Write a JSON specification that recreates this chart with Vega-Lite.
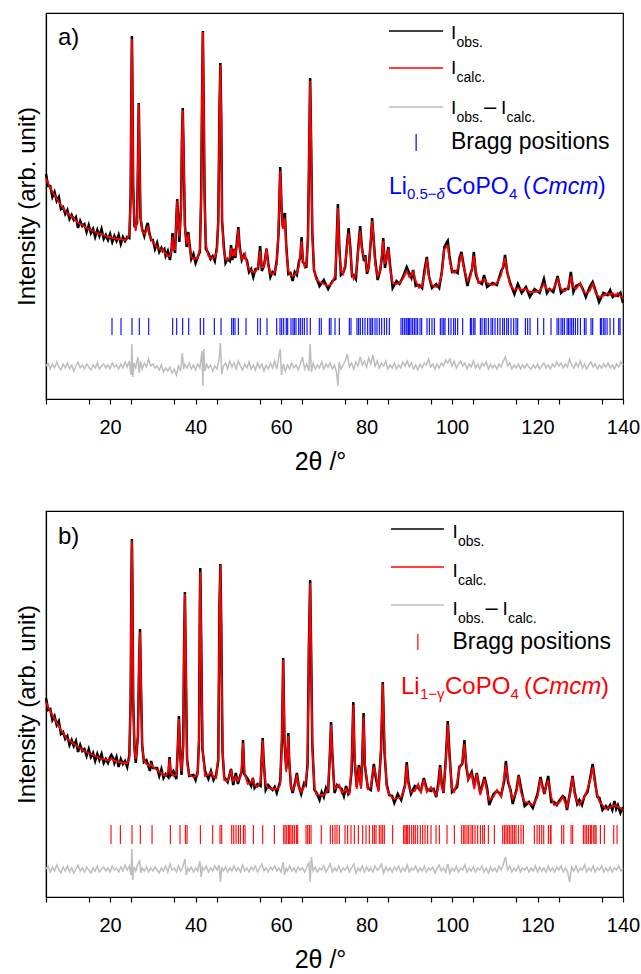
{
"$schema": "https://vega.github.io/schema/vega-lite/v6.json",
"background": "white",
"padding": {"left": 14, "top": 12, "right": 8, "bottom": 4},
"spacing": 35,
"config": {
 "font": "Liberation Sans",
 "view": {"stroke": "black", "strokeWidth": 1.2},
 "axis": {"domainColor": "black", "tickColor": "black", "labelColor": "black", "titleColor": "black", "grid": false, "titleFontWeight": "normal", "labelFont": "Liberation Sans", "titleFont": "Liberation Sans", "domainWidth": 1.2, "tickWidth": 1.2}
},
"datasets": {
 "one": [{}],
 "pa": [
{"x":5,"c":221,"o":225},{"x":5.5,"c":216,"o":213},{"x":6,"c":211,"o":213},{"x":6.5,"c":207,"o":202},{"x":7,"c":204,"o":207},{"x":7.5,"c":200,"o":198},{"x":8,"c":197,"o":202},{"x":8.5,"c":194,"o":190},{"x":9,"c":191,"o":192},{"x":9.5,"c":188,"o":185},
{"x":10,"c":186,"o":189},{"x":10.5,"c":184,"o":180},{"x":11,"c":182,"o":184},{"x":11.5,"c":181,"o":179},{"x":12,"c":178,"o":182},{"x":12.5,"c":176,"o":171},{"x":13,"c":175,"o":178},{"x":13.5,"c":174,"o":173},{"x":14,"c":173,"o":175},{"x":14.5,"c":171,"o":167},
{"x":15,"c":170,"o":174},{"x":15.5,"c":169,"o":166},{"x":16,"c":168,"o":170},{"x":16.5,"c":167,"o":162},{"x":17,"c":166,"o":169},{"x":17.5,"c":165,"o":163},{"x":18,"c":165,"o":170},{"x":18.5,"c":164,"o":160},{"x":19,"c":163,"o":164},{"x":19.5,"c":162,"o":159},
{"x":20,"c":162,"o":165},{"x":20.5,"c":161,"o":157},{"x":21,"c":161,"o":163},{"x":21.5,"c":160,"o":158},{"x":22,"c":160,"o":164},{"x":22.5,"c":160,"o":155},{"x":23,"c":159,"o":162},{"x":23.5,"c":159,"o":158},{"x":24,"c":160,"o":162},{"x":24.5,"c":165,"o":161},
{"x":24.8,"c":200,"o":204},{"x":25,"c":320,"o":317},{"x":25.1,"c":360,"o":363},{"x":25.2,"c":330,"o":325},{"x":25.4,"c":210,"o":213},{"x":25.7,"c":175,"o":173},{"x":26,"c":168,"o":173},{"x":26.3,"c":180,"o":176},{"x":26.5,"c":230,"o":231},{"x":26.7,"c":295,"o":296},
{"x":26.9,"c":240,"o":243},{"x":27.1,"c":185,"o":181},{"x":27.5,"c":168,"o":170},{"x":28,"c":165,"o":163},{"x":28.5,"c":168,"o":172},{"x":28.8,"c":173,"o":176},{"x":29.1,"c":165,"o":168},{"x":29.6,"c":160,"o":159},{"x":30,"c":157,"o":159},{"x":30.5,"c":154,"o":150},
{"x":31,"c":152,"o":156},{"x":31.5,"c":150,"o":147},{"x":32,"c":149,"o":151},{"x":32.3,"c":150,"o":148},{"x":32.7,"c":147,"o":150},{"x":33,"c":145,"o":143},{"x":33.5,"c":143,"o":148},{"x":34,"c":143,"o":139},{"x":34.4,"c":150,"o":151},{"x":34.6,"c":162,"o":166},
{"x":34.8,"c":150,"o":153},{"x":35.2,"c":150,"o":146},{"x":35.5,"c":180,"o":182},{"x":35.7,"c":198,"o":200},{"x":35.9,"c":178,"o":182},{"x":36.2,"c":162,"o":157},{"x":36.6,"c":190,"o":193},{"x":36.8,"c":260,"o":259},{"x":37,"c":289,"o":291},{"x":37.2,"c":250,"o":246},
{"x":37.5,"c":170,"o":174},{"x":37.9,"c":155,"o":152},{"x":38.1,"c":158,"o":160},{"x":38.3,"c":165,"o":167},{"x":38.5,"c":155,"o":158},{"x":39,"c":142,"o":140},{"x":39.5,"c":140,"o":145},{"x":40,"c":140,"o":136},{"x":40.5,"c":141,"o":142},{"x":41,"c":150,"o":147},
{"x":41.3,"c":200,"o":203},{"x":41.5,"c":300,"o":296},{"x":41.7,"c":367,"o":368},{"x":41.9,"c":300,"o":298},{"x":42.1,"c":200,"o":204},{"x":42.4,"c":155,"o":150},{"x":43,"c":143,"o":146},{"x":43.5,"c":141,"o":140},{"x":44,"c":141,"o":143},{"x":44.5,"c":142,"o":138},
{"x":45,"c":148,"o":152},{"x":45.3,"c":180,"o":177},{"x":45.6,"c":290,"o":292},{"x":45.8,"c":334,"o":336},{"x":46,"c":280,"o":283},{"x":46.2,"c":180,"o":178},{"x":46.6,"c":148,"o":153},{"x":47,"c":140,"o":136},{"x":47.5,"c":139,"o":140},{"x":48,"c":141,"o":138},
{"x":48.3,"c":151,"o":154},{"x":48.6,"c":143,"o":139},{"x":49,"c":148,"o":150},{"x":49.3,"c":143,"o":141},{"x":49.7,"c":155,"o":159},{"x":50,"c":170,"o":172},{"x":50.3,"c":150,"o":153},{"x":50.8,"c":140,"o":139},{"x":51.3,"c":142,"o":144},{"x":51.6,"c":145,"o":141},
{"x":52,"c":135,"o":139},{"x":52.5,"c":130,"o":127},{"x":53,"c":128,"o":130},{"x":53.5,"c":127,"o":122},{"x":54,"c":127,"o":130},{"x":54.6,"c":132,"o":130},{"x":55.1,"c":148,"o":153},{"x":55.5,"c":132,"o":128},{"x":56,"c":132,"o":133},{"x":56.6,"c":151,"o":150},
{"x":57,"c":133,"o":136},{"x":57.5,"c":126,"o":122},{"x":58,"c":125,"o":127},{"x":58.5,"c":127,"o":125},{"x":59,"c":135,"o":139},{"x":59.4,"c":170,"o":165},{"x":59.8,"c":228,"o":232},{"x":60.1,"c":195,"o":194},{"x":60.4,"c":170,"o":172},{"x":60.9,"c":181,"o":186},
{"x":61.2,"c":150,"o":154},{"x":61.7,"c":128,"o":125},{"x":62.2,"c":124,"o":126},{"x":62.7,"c":123,"o":118},{"x":63.2,"c":124,"o":127},{"x":63.7,"c":126,"o":124},{"x":64.2,"c":133,"o":138},{"x":64.5,"c":145,"o":141},{"x":64.8,"c":158,"o":162},{"x":65.1,"c":140,"o":137},
{"x":65.5,"c":132,"o":135},{"x":65.9,"c":135,"o":131},{"x":66.3,"c":160,"o":162},{"x":66.6,"c":260,"o":258},{"x":66.8,"c":318,"o":321},{"x":67,"c":270,"o":265},{"x":67.3,"c":165,"o":168},{"x":67.7,"c":130,"o":129},{"x":68.2,"c":120,"o":122},{"x":69,"c":117,"o":113},
{"x":70,"c":115,"o":119},{"x":71,"c":113,"o":110},{"x":72,"c":116,"o":118},{"x":72.7,"c":125,"o":120},{"x":73,"c":155,"o":158},{"x":73.3,"c":191,"o":195},{"x":73.6,"c":150,"o":155},{"x":74,"c":128,"o":124},{"x":74.5,"c":125,"o":126},{"x":75,"c":135,"o":132},
{"x":75.4,"c":150,"o":153},{"x":75.8,"c":166,"o":171},{"x":76.2,"c":150,"o":152},{"x":76.6,"c":125,"o":123},{"x":77,"c":120,"o":124},{"x":77.5,"c":125,"o":120},{"x":78,"c":145,"o":148},{"x":78.5,"c":168,"o":173},{"x":78.9,"c":150,"o":152},{"x":79.4,"c":142,"o":138},
{"x":79.7,"c":140,"o":144},{"x":80.1,"c":128,"o":125},{"x":80.5,"c":130,"o":132},{"x":81,"c":160,"o":158},{"x":81.3,"c":178,"o":181},{"x":81.6,"c":165,"o":163},{"x":82,"c":135,"o":140},{"x":82.6,"c":123,"o":119},{"x":83.2,"c":128,"o":129},{"x":83.6,"c":145,"o":142},
{"x":83.9,"c":158,"o":161},{"x":84.3,"c":135,"o":131},{"x":84.7,"c":140,"o":142},{"x":85.1,"c":150,"o":152},{"x":85.5,"c":130,"o":134},{"x":86.1,"c":116,"o":111},{"x":87,"c":115,"o":118},{"x":87.7,"c":116,"o":115},{"x":88.5,"c":120,"o":122},{"x":89.4,"c":128,"o":132},
{"x":90,"c":122,"o":126},{"x":90.5,"c":124,"o":121},{"x":90.9,"c":127,"o":129},{"x":91.5,"c":118,"o":113},{"x":92.3,"c":111,"o":114},{"x":93,"c":113,"o":111},{"x":93.6,"c":125,"o":130},{"x":94.1,"c":140,"o":142},{"x":94.6,"c":122,"o":123},{"x":95.3,"c":114,"o":111},
{"x":96.3,"c":112,"o":115},{"x":97,"c":115,"o":111},{"x":97.6,"c":125,"o":127},{"x":98.2,"c":150,"o":152},{"x":98.7,"c":152,"o":156},{"x":99,"c":153,"o":158},{"x":99.4,"c":140,"o":143},{"x":100,"c":128,"o":127},{"x":100.6,"c":126,"o":128},{"x":101.3,"c":130,"o":126},
{"x":101.8,"c":138,"o":142},{"x":102.2,"c":145,"o":147},{"x":102.7,"c":132,"o":134},{"x":103.6,"c":118,"o":113},{"x":104.3,"c":122,"o":125},{"x":104.7,"c":132,"o":130},{"x":105.1,"c":143,"o":147},{"x":105.6,"c":128,"o":124},{"x":106.2,"c":116,"o":117},{"x":107,"c":118,"o":115},
{"x":107.5,"c":120,"o":124},{"x":108.2,"c":116,"o":112},{"x":109.5,"c":114,"o":116},{"x":110.5,"c":116,"o":114},{"x":111.5,"c":124,"o":128},{"x":112,"c":135,"o":132},{"x":112.4,"c":141,"o":144},{"x":112.9,"c":128,"o":127},{"x":113.6,"c":114,"o":116},{"x":114.6,"c":109,"o":105},
{"x":115.4,"c":111,"o":115},{"x":116.3,"c":109,"o":106},{"x":117.3,"c":110,"o":112},{"x":118.2,"c":107,"o":102},{"x":119.3,"c":107,"o":110},{"x":120.5,"c":108,"o":106},{"x":121.5,"c":115,"o":120},{"x":122.2,"c":110,"o":106},{"x":122.8,"c":109,"o":110},{"x":123.7,"c":110,"o":107},
{"x":124.7,"c":120,"o":123},{"x":125.5,"c":110,"o":106},{"x":126.4,"c":108,"o":110},{"x":127.2,"c":112,"o":110},{"x":127.8,"c":123,"o":127},{"x":128.4,"c":112,"o":107},{"x":129,"c":110,"o":113},{"x":130,"c":116,"o":115},{"x":130.6,"c":108,"o":110},{"x":131.3,"c":106,"o":102},
{"x":132.2,"c":108,"o":112},{"x":132.9,"c":115,"o":117},{"x":133.6,"c":106,"o":108},{"x":134.4,"c":102,"o":97},{"x":135.4,"c":103,"o":106},{"x":136.4,"c":106,"o":104},{"x":137,"c":104,"o":109},{"x":137.6,"c":106,"o":102},{"x":138.2,"c":103,"o":104},{"x":138.8,"c":106,"o":103},
{"x":139.4,"c":103,"o":106},{"x":140,"c":100,"o":96}
 ],
 "da": [
{"x":5,"d":33},{"x":5.5,"d":36},{"x":6,"d":30},{"x":6.5,"d":35},{"x":7,"d":31},{"x":7.5,"d":37},{"x":8,"d":32},{"x":8.5,"d":29},{"x":9,"d":35},{"x":9.5,"d":31},
{"x":10,"d":36},{"x":10.5,"d":30},{"x":11,"d":34},{"x":11.5,"d":28},{"x":12,"d":33},{"x":12.5,"d":37},{"x":13,"d":31},{"x":13.5,"d":34},{"x":14,"d":30},{"x":14.5,"d":35},
{"x":15,"d":32},{"x":15.5,"d":29},{"x":16,"d":34},{"x":16.5,"d":31},{"x":17,"d":36},{"x":17.5,"d":30},{"x":18,"d":33},{"x":18.5,"d":35},{"x":19,"d":31},{"x":19.5,"d":34},
{"x":20,"d":30},{"x":20.5,"d":36},{"x":21,"d":32},{"x":21.5,"d":34},{"x":22,"d":30},{"x":22.5,"d":35},{"x":23,"d":31},{"x":23.5,"d":37},{"x":24,"d":32},{"x":24.5,"d":38},
{"x":24.9,"d":24},{"x":25.1,"d":55},{"x":25.3,"d":22},{"x":25.6,"d":36},{"x":26,"d":31},{"x":26.5,"d":42},{"x":26.8,"d":26},{"x":27.1,"d":38},{"x":27.5,"d":30},{"x":28,"d":36},
{"x":28.5,"d":32},{"x":29,"d":40},{"x":29.5,"d":33},{"x":30,"d":35},{"x":30.5,"d":31},{"x":31,"d":33},{"x":31.5,"d":29},{"x":32,"d":34},{"x":32.5,"d":27},{"x":33,"d":31},
{"x":33.5,"d":28},{"x":34,"d":32},{"x":34.5,"d":26},{"x":35,"d":30},{"x":35.5,"d":24},{"x":36,"d":33},{"x":36.5,"d":28},{"x":36.9,"d":46},{"x":37.2,"d":30},{"x":37.5,"d":35},
{"x":38,"d":31},{"x":38.5,"d":36},{"x":39,"d":30},{"x":39.5,"d":34},{"x":40,"d":29},{"x":40.5,"d":35},{"x":41,"d":31},{"x":41.5,"d":48},{"x":41.7,"d":13},{"x":41.9,"d":50},
{"x":42.2,"d":28},{"x":42.6,"d":35},{"x":43,"d":31},{"x":43.5,"d":34},{"x":44,"d":28},{"x":44.5,"d":33},{"x":45,"d":30},{"x":45.5,"d":40},{"x":45.8,"d":56},{"x":46.1,"d":25},
{"x":46.5,"d":33},{"x":47,"d":36},{"x":47.5,"d":30},{"x":48,"d":38},{"x":48.5,"d":32},{"x":49,"d":36},{"x":49.5,"d":30},{"x":50,"d":38},{"x":50.5,"d":33},{"x":51,"d":29},
{"x":51.5,"d":35},{"x":52,"d":31},{"x":52.5,"d":37},{"x":53,"d":30},{"x":53.5,"d":34},{"x":54,"d":29},{"x":54.5,"d":36},{"x":55,"d":31},{"x":55.5,"d":35},{"x":56,"d":28},
{"x":56.5,"d":34},{"x":57,"d":30},{"x":57.5,"d":36},{"x":58,"d":31},{"x":58.5,"d":38},{"x":59,"d":30},{"x":59.5,"d":43},{"x":59.8,"d":50},{"x":60.1,"d":24},{"x":60.5,"d":35},
{"x":61,"d":28},{"x":61.5,"d":34},{"x":62,"d":30},{"x":62.5,"d":36},{"x":63,"d":31},{"x":63.5,"d":34},{"x":64,"d":29},{"x":64.5,"d":35},{"x":65,"d":42},{"x":65.5,"d":30},
{"x":66,"d":35},{"x":66.5,"d":28},{"x":66.8,"d":55},{"x":67.1,"d":27},{"x":67.5,"d":36},{"x":68,"d":30},{"x":68.5,"d":34},{"x":69,"d":31},{"x":69.5,"d":37},{"x":70,"d":30},
{"x":70.5,"d":35},{"x":71,"d":32},{"x":71.5,"d":36},{"x":72,"d":30},{"x":72.5,"d":34},{"x":73,"d":26},{"x":73.3,"d":13},{"x":73.6,"d":37},{"x":74,"d":30},{"x":74.5,"d":34},
{"x":75,"d":38},{"x":75.5,"d":45},{"x":76,"d":32},{"x":76.5,"d":36},{"x":77,"d":30},{"x":77.5,"d":37},{"x":78,"d":33},{"x":78.5,"d":42},{"x":79,"d":34},{"x":79.5,"d":38},
{"x":80,"d":32},{"x":80.5,"d":41},{"x":81,"d":35},{"x":81.5,"d":44},{"x":82,"d":33},{"x":82.5,"d":38},{"x":83,"d":31},{"x":83.5,"d":36},{"x":84,"d":33},{"x":84.5,"d":38},
{"x":85,"d":30},{"x":85.5,"d":34},{"x":86,"d":31},{"x":86.5,"d":36},{"x":87,"d":30},{"x":87.5,"d":34},{"x":88,"d":31},{"x":88.5,"d":37},{"x":89,"d":33},{"x":89.5,"d":38},
{"x":90,"d":32},{"x":90.5,"d":36},{"x":91,"d":30},{"x":91.5,"d":34},{"x":92,"d":29},{"x":92.5,"d":35},{"x":93,"d":31},{"x":93.5,"d":36},{"x":94,"d":34},{"x":94.5,"d":40},
{"x":95,"d":32},{"x":95.5,"d":35},{"x":96,"d":30},{"x":96.5,"d":35},{"x":97,"d":31},{"x":97.5,"d":36},{"x":98,"d":33},{"x":98.5,"d":39},{"x":99,"d":36},{"x":99.5,"d":40},
{"x":100,"d":33},{"x":100.5,"d":38},{"x":101,"d":31},{"x":101.5,"d":35},{"x":102,"d":38},{"x":102.5,"d":33},{"x":103,"d":36},{"x":103.5,"d":30},{"x":104,"d":35},{"x":104.5,"d":32},
{"x":105,"d":38},{"x":105.5,"d":31},{"x":106,"d":35},{"x":106.5,"d":30},{"x":107,"d":36},{"x":107.5,"d":33},{"x":108,"d":37},{"x":108.5,"d":30},{"x":109,"d":35},{"x":109.5,"d":31},
{"x":110,"d":34},{"x":110.5,"d":30},{"x":111,"d":35},{"x":111.5,"d":32},{"x":112,"d":38},{"x":112.5,"d":42},{"x":113,"d":33},{"x":113.5,"d":36},{"x":114,"d":30},{"x":114.5,"d":34},
{"x":115,"d":31},{"x":115.5,"d":35},{"x":116,"d":30},{"x":116.5,"d":34},{"x":117,"d":31},{"x":117.5,"d":35},{"x":118,"d":32},{"x":118.5,"d":30},{"x":119,"d":34},{"x":119.5,"d":31},
{"x":120,"d":35},{"x":120.5,"d":30},{"x":121,"d":33},{"x":121.5,"d":36},{"x":122,"d":31},{"x":122.5,"d":34},{"x":123,"d":30},{"x":123.5,"d":35},{"x":124,"d":32},{"x":124.5,"d":37},
{"x":125,"d":33},{"x":125.5,"d":36},{"x":126,"d":31},{"x":126.5,"d":35},{"x":127,"d":32},{"x":127.5,"d":40},{"x":128,"d":34},{"x":128.5,"d":31},{"x":129,"d":36},{"x":129.5,"d":32},
{"x":130,"d":38},{"x":130.5,"d":31},{"x":131,"d":35},{"x":131.5,"d":30},{"x":132,"d":34},{"x":132.5,"d":37},{"x":133,"d":32},{"x":133.5,"d":35},{"x":134,"d":30},{"x":134.5,"d":34},
{"x":135,"d":31},{"x":135.5,"d":35},{"x":136,"d":32},{"x":136.5,"d":36},{"x":137,"d":31},{"x":137.5,"d":34},{"x":138,"d":30},{"x":138.5,"d":35},{"x":139,"d":32},{"x":139.5,"d":37},{"x":140,"d":34}
 ],
 "ba": [
{"x":20.44},{"x":22.55},{"x":25.12},{"x":26.83},{"x":29.03},{"x":34.64},{"x":35.58},{"x":36.98},{"x":38.39},{"x":41.1},{"x":41.9},{"x":44.38},{"x":45.95},{"x":48.45},{"x":48.83},{"x":49.22},{"x":50.0},{"x":51.8},{"x":54.53},{"x":55.14},{"x":56.71},{"x":58.98},{"x":59.75},{"x":60.15},{"x":60.62},{"x":61.22},{"x":61.55},{"x":62.32},{"x":62.79},{"x":63.1},{"x":63.49},{"x":64.12},{"x":64.5},{"x":64.97},{"x":65.44},{"x":66.07},{"x":66.83},{"x":68.94},{"x":69.4},
{"x":71.29},{"x":71.68},{"x":72.62},{"x":73.63},{"x":75.97},{"x":76.36},{"x":77.76},{"x":78.15},{"x":78.54},{"x":79.09},{"x":79.64},{"x":80.26},{"x":80.81},{"x":81.04},{"x":81.43},{"x":81.98},{"x":82.44},{"x":82.99},{"x":83.54},{"x":84.16},{"x":84.71},{"x":85.33},
{"x":88.06},{"x":88.45},{"x":88.84},{"x":89.23},{"x":89.46},{"x":89.78},{"x":90.01},{"x":90.4},{"x":90.79},{"x":91.18},{"x":91.57},{"x":91.96},{"x":92.51},{"x":92.9},{"x":94.14},{"x":94.69},{"x":95.31},{"x":95.86},{"x":97.26},{"x":97.66},{"x":98.05},{"x":98.36},{"x":99.21},{"x":99.76},{"x":100.38},{"x":100.77},{"x":101.32},{"x":102.49},
{"x":104.29},{"x":104.6},{"x":105.07},{"x":105.38},{"x":106.63},{"x":107.02},{"x":107.56},{"x":107.95},{"x":108.5},{"x":109.12},{"x":109.51},{"x":110.06},{"x":110.68},{"x":111.23},{"x":111.85},{"x":112.24},{"x":112.79},{"x":113.18},{"x":113.8},{"x":114.43},{"x":114.97},{"x":115.36},
{"x":117.16},{"x":117.7},{"x":118.25},{"x":120.04},{"x":121.45},{"x":123.16},{"x":124.57},{"x":124.96},{"x":125.5},{"x":125.89},{"x":126.28},{"x":126.91},{"x":127.22},{"x":127.61},{"x":128.0},{"x":128.39},{"x":128.86},{"x":129.4},{"x":130.03},{"x":130.96},{"x":131.35},{"x":132.52},{"x":132.91},{"x":134.71},{"x":135.02},{"x":135.49},{"x":135.8},{"x":136.27},{"x":136.97},{"x":137.83},{"x":139.0},{"x":139.31}
 ],
 "pb": [
{"x":5,"c":195,"o":199},{"x":5.5,"c":190,"o":187},{"x":6,"c":186,"o":188},{"x":6.5,"c":182,"o":177},{"x":7,"c":178,"o":181},{"x":7.5,"c":174,"o":172},{"x":8,"c":171,"o":176},{"x":8.5,"c":167,"o":163},{"x":9,"c":164,"o":165},{"x":9.5,"c":161,"o":158},
{"x":10,"c":158,"o":161},{"x":10.5,"c":156,"o":152},{"x":11,"c":155,"o":157},{"x":11.5,"c":153,"o":151},{"x":12,"c":152,"o":156},{"x":12.5,"c":150,"o":145},{"x":13,"c":149,"o":152},{"x":13.5,"c":147,"o":146},{"x":14,"c":146,"o":148},{"x":14.5,"c":145,"o":141},
{"x":15,"c":144,"o":148},{"x":15.5,"c":143,"o":140},{"x":16,"c":142,"o":144},{"x":16.5,"c":141,"o":136},{"x":17,"c":140,"o":143},{"x":17.5,"c":139,"o":137},{"x":18,"c":138,"o":143},{"x":18.5,"c":138,"o":134},{"x":19,"c":137,"o":138},{"x":19.5,"c":137,"o":134},
{"x":20,"c":137,"o":140},{"x":20.3,"c":139,"o":142},{"x":20.7,"c":137,"o":139},{"x":21,"c":136,"o":134},{"x":21.5,"c":136,"o":140},{"x":22,"c":135,"o":130},{"x":22.5,"c":135,"o":138},{"x":23,"c":134,"o":133},{"x":23.5,"c":134,"o":136},{"x":24,"c":134,"o":130},
{"x":24.5,"c":138,"o":142},{"x":24.8,"c":200,"o":197},{"x":25,"c":320,"o":322},{"x":25.1,"c":356,"o":358},{"x":25.2,"c":320,"o":323},{"x":25.4,"c":200,"o":198},{"x":25.7,"c":145,"o":150},{"x":26,"c":138,"o":134},{"x":26.5,"c":160,"o":161},{"x":26.8,"c":240,"o":237},
{"x":27,"c":265,"o":268},{"x":27.2,"c":220,"o":216},{"x":27.5,"c":150,"o":152},{"x":27.9,"c":137,"o":135},{"x":28.5,"c":133,"o":137},{"x":29.3,"c":131,"o":126},{"x":29.6,"c":133,"o":136},{"x":30,"c":130,"o":129},{"x":31,"c":127,"o":129},{"x":31.5,"c":125,"o":121},
{"x":32,"c":124,"o":128},{"x":32.5,"c":122,"o":119},{"x":33,"c":121,"o":123},{"x":33.6,"c":125,"o":120},{"x":33.9,"c":138,"o":140},{"x":34.2,"c":124,"o":122},{"x":34.8,"c":121,"o":126},{"x":35.5,"c":122,"o":118},{"x":35.8,"c":145,"o":146},{"x":36.1,"c":178,"o":181},
{"x":36.4,"c":140,"o":143},{"x":36.7,"c":126,"o":122},{"x":37.1,"c":150,"o":152},{"x":37.3,"c":250,"o":248},{"x":37.5,"c":303,"o":305},{"x":37.7,"c":240,"o":235},{"x":38,"c":135,"o":138},{"x":38.5,"c":122,"o":121},{"x":39.5,"c":120,"o":122},{"x":40,"c":121,"o":117},
{"x":40.5,"c":122,"o":126},{"x":40.8,"c":160,"o":157},{"x":41,"c":290,"o":292},{"x":41.1,"c":325,"o":329},{"x":41.3,"c":260,"o":263},{"x":41.6,"c":150,"o":148},{"x":42.2,"c":121,"o":126},{"x":43,"c":122,"o":118},{"x":43.6,"c":125,"o":126},{"x":44.2,"c":120,"o":117},
{"x":44.8,"c":119,"o":122},{"x":45.3,"c":140,"o":136},{"x":45.6,"c":290,"o":292},{"x":45.8,"c":332,"o":333},{"x":46,"c":270,"o":274},{"x":46.3,"c":150,"o":145},{"x":46.7,"c":117,"o":120},{"x":47.5,"c":116,"o":115},{"x":48.3,"c":126,"o":128},{"x":48.8,"c":116,"o":112},
{"x":49.4,"c":120,"o":124},{"x":49.9,"c":116,"o":113},{"x":50.5,"c":120,"o":122},{"x":50.8,"c":130,"o":125},{"x":51.1,"c":154,"o":157},{"x":51.4,"c":125,"o":123},{"x":52.2,"c":113,"o":118},{"x":53,"c":115,"o":111},{"x":53.4,"c":118,"o":119},{"x":53.8,"c":112,"o":109},
{"x":54.5,"c":110,"o":113},{"x":55.2,"c":115,"o":111},{"x":55.5,"c":140,"o":142},{"x":55.7,"c":157,"o":159},{"x":55.9,"c":135,"o":139},{"x":56.4,"c":112,"o":107},{"x":57,"c":109,"o":112},{"x":58,"c":108,"o":107},{"x":58.5,"c":108,"o":110},{"x":59,"c":108,"o":104},
{"x":59.8,"c":112,"o":116},{"x":60.2,"c":160,"o":157},{"x":60.5,"c":237,"o":239},{"x":60.8,"c":160,"o":155},{"x":61.2,"c":125,"o":128},{"x":61.5,"c":145,"o":143},{"x":61.7,"c":161,"o":164},{"x":61.9,"c":140,"o":136},{"x":62.3,"c":110,"o":111},{"x":62.7,"c":107,"o":104},
{"x":63.3,"c":112,"o":115},{"x":63.7,"c":122,"o":124},{"x":64.1,"c":110,"o":112},{"x":64.7,"c":105,"o":103},{"x":65.4,"c":110,"o":114},{"x":65.8,"c":117,"o":112},{"x":66.2,"c":130,"o":133},{"x":66.5,"c":250,"o":249},{"x":66.8,"c":314,"o":317},{"x":67,"c":260,"o":256},
{"x":67.3,"c":150,"o":154},{"x":67.8,"c":110,"o":107},{"x":68.2,"c":103,"o":105},{"x":69,"c":102,"o":97},{"x":69.5,"c":102,"o":105},{"x":70,"c":102,"o":100},{"x":70.5,"c":104,"o":109},{"x":71,"c":108,"o":104},{"x":71.4,"c":140,"o":141},{"x":71.7,"c":172,"o":175},
{"x":72,"c":140,"o":143},{"x":72.5,"c":108,"o":104},{"x":73.1,"c":110,"o":112},{"x":73.6,"c":112,"o":110},{"x":74.2,"c":104,"o":108},{"x":74.7,"c":106,"o":101},{"x":75.2,"c":108,"o":111},{"x":75.7,"c":104,"o":103},{"x":76,"c":103,"o":105},{"x":76.5,"c":130,"o":126},
{"x":76.9,"c":192,"o":195},{"x":77.2,"c":140,"o":137},{"x":77.7,"c":108,"o":110},{"x":78.2,"c":130,"o":132},{"x":78.7,"c":108,"o":111},{"x":79,"c":140,"o":138},{"x":79.3,"c":180,"o":184},{"x":79.6,"c":135,"o":131},{"x":80.3,"c":108,"o":109},{"x":81,"c":110,"o":107},
{"x":81.7,"c":130,"o":133},{"x":82.2,"c":122,"o":118},{"x":82.8,"c":105,"o":107},{"x":83.4,"c":150,"o":148},{"x":83.8,"c":213,"o":215},{"x":84.2,"c":150,"o":145},{"x":84.7,"c":110,"o":113},{"x":85.3,"c":103,"o":102},{"x":86,"c":99,"o":101},{"x":86.5,"c":98,"o":94},
{"x":87.3,"c":99,"o":103},{"x":88.1,"c":100,"o":97},{"x":89,"c":110,"o":112},{"x":89.4,"c":132,"o":135},{"x":89.8,"c":112,"o":115},{"x":90.4,"c":105,"o":103},{"x":91.3,"c":106,"o":111},{"x":92.1,"c":113,"o":109},{"x":92.7,"c":105,"o":106},{"x":93.4,"c":117,"o":119},
{"x":94.1,"c":105,"o":108},{"x":95.1,"c":110,"o":106},{"x":95.7,"c":106,"o":108},{"x":96.3,"c":102,"o":100},{"x":96.8,"c":110,"o":114},{"x":97.2,"c":130,"o":132},{"x":97.6,"c":110,"o":113},{"x":98,"c":105,"o":104},{"x":98.6,"c":140,"o":142},{"x":99,"c":173,"o":176},
{"x":99.4,"c":140,"o":144},{"x":100,"c":108,"o":105},{"x":100.5,"c":105,"o":107},{"x":101.2,"c":115,"o":110},{"x":101.7,"c":128,"o":130},{"x":102.4,"c":135,"o":133},{"x":102.9,"c":153,"o":157},{"x":103.3,"c":135,"o":131},{"x":103.8,"c":117,"o":118},{"x":104.6,"c":123,"o":125},
{"x":105.2,"c":108,"o":111},{"x":105.8,"c":123,"o":124},{"x":106.6,"c":102,"o":104},{"x":107.6,"c":118,"o":120},{"x":108.2,"c":105,"o":109},{"x":108.7,"c":97,"o":92},{"x":109.7,"c":100,"o":103},{"x":110.5,"c":107,"o":106},{"x":111.5,"c":100,"o":102},{"x":112.2,"c":120,"o":116},
{"x":112.6,"c":132,"o":136},{"x":113.1,"c":118,"o":115},{"x":113.7,"c":105,"o":107},{"x":114.2,"c":98,"o":93},{"x":115.1,"c":105,"o":108},{"x":115.6,"c":121,"o":122},{"x":116.1,"c":105,"o":110},{"x":117,"c":95,"o":91},{"x":118,"c":94,"o":95},{"x":118.9,"c":92,"o":89},
{"x":120,"c":100,"o":103},{"x":120.7,"c":118,"o":120},{"x":121.2,"c":108,"o":110},{"x":121.6,"c":105,"o":103},{"x":122.5,"c":117,"o":121},{"x":123.2,"c":100,"o":95},{"x":123.9,"c":92,"o":95},{"x":124.5,"c":93,"o":92},{"x":125.2,"c":95,"o":97},{"x":125.9,"c":100,"o":101},
{"x":126.4,"c":95,"o":99},{"x":126.9,"c":90,"o":87},{"x":127.7,"c":105,"o":107},{"x":128.2,"c":120,"o":121},{"x":128.7,"c":102,"o":105},{"x":129.3,"c":95,"o":93},{"x":129.8,"c":92,"o":97},{"x":130.4,"c":96,"o":92},{"x":131,"c":100,"o":101},{"x":131.7,"c":108,"o":105},
{"x":132.4,"c":118,"o":121},{"x":132.9,"c":130,"o":133},{"x":133.5,"c":112,"o":114},{"x":134,"c":102,"o":100},{"x":134.5,"c":95,"o":99},{"x":135.2,"c":92,"o":87},{"x":136,"c":88,"o":91},{"x":136.5,"c":89,"o":88},{"x":137,"c":90,"o":92},{"x":137.5,"c":91,"o":87},
{"x":138,"c":92,"o":96},{"x":138.4,"c":91,"o":88},{"x":138.8,"c":90,"o":92},{"x":139.4,"c":89,"o":84},{"x":140,"c":87,"o":90}
 ],
 "db": [
{"x":5,"d":28},{"x":5.5,"d":31},{"x":6,"d":25},{"x":6.5,"d":30},{"x":7,"d":26},{"x":7.5,"d":32},{"x":8,"d":27},{"x":8.5,"d":24},{"x":9,"d":30},{"x":9.5,"d":26},
{"x":10,"d":31},{"x":10.5,"d":25},{"x":11,"d":29},{"x":11.5,"d":24},{"x":12,"d":28},{"x":12.5,"d":32},{"x":13,"d":26},{"x":13.5,"d":29},{"x":14,"d":25},{"x":14.5,"d":30},
{"x":15,"d":27},{"x":15.5,"d":24},{"x":16,"d":29},{"x":16.5,"d":26},{"x":17,"d":31},{"x":17.5,"d":25},{"x":18,"d":28},{"x":18.5,"d":30},{"x":19,"d":26},{"x":19.5,"d":29},
{"x":20,"d":25},{"x":20.5,"d":31},{"x":21,"d":27},{"x":21.5,"d":29},{"x":22,"d":25},{"x":22.5,"d":30},{"x":23,"d":26},{"x":23.5,"d":32},{"x":24,"d":27},{"x":24.5,"d":31},
{"x":24.9,"d":22},{"x":25.1,"d":48},{"x":25.3,"d":17},{"x":25.6,"d":30},{"x":26,"d":26},{"x":26.5,"d":33},{"x":26.9,"d":36},{"x":27.2,"d":24},{"x":27.5,"d":29},{"x":28,"d":26},
{"x":28.5,"d":30},{"x":29,"d":25},{"x":29.5,"d":29},{"x":30,"d":26},{"x":30.5,"d":30},{"x":31,"d":27},{"x":31.5,"d":24},{"x":32,"d":29},{"x":32.5,"d":26},{"x":33,"d":31},
{"x":33.5,"d":25},{"x":34,"d":33},{"x":34.5,"d":27},{"x":35,"d":29},{"x":35.5,"d":25},{"x":36,"d":31},{"x":36.5,"d":26},{"x":37,"d":30},{"x":37.5,"d":38},{"x":37.8,"d":22},
{"x":38.2,"d":29},{"x":38.5,"d":26},{"x":39,"d":30},{"x":39.5,"d":25},{"x":40,"d":29},{"x":40.5,"d":26},{"x":41,"d":36},{"x":41.3,"d":20},{"x":41.6,"d":30},{"x":42,"d":27},
{"x":42.5,"d":31},{"x":43,"d":25},{"x":43.5,"d":29},{"x":44,"d":26},{"x":44.5,"d":31},{"x":45,"d":27},{"x":45.5,"d":32},{"x":45.8,"d":15},{"x":46.1,"d":30},{"x":46.5,"d":26},
{"x":47,"d":30},{"x":47.5,"d":25},{"x":48,"d":29},{"x":48.5,"d":26},{"x":49,"d":31},{"x":49.5,"d":26},{"x":50,"d":29},{"x":50.5,"d":25},{"x":51,"d":32},{"x":51.5,"d":26},
{"x":52,"d":29},{"x":52.5,"d":25},{"x":53,"d":30},{"x":53.5,"d":27},{"x":54,"d":31},{"x":54.5,"d":25},{"x":55,"d":29},{"x":55.5,"d":33},{"x":56,"d":26},{"x":56.5,"d":29},
{"x":57,"d":25},{"x":57.5,"d":30},{"x":58,"d":27},{"x":58.5,"d":31},{"x":59,"d":26},{"x":59.5,"d":29},{"x":60,"d":25},{"x":60.5,"d":35},{"x":60.8,"d":22},{"x":61.2,"d":29},
{"x":61.5,"d":26},{"x":62,"d":31},{"x":62.5,"d":26},{"x":63,"d":29},{"x":63.5,"d":25},{"x":64,"d":30},{"x":64.5,"d":27},{"x":65,"d":29},{"x":65.5,"d":25},{"x":66,"d":30},
{"x":66.5,"d":34},{"x":66.8,"d":15},{"x":67.1,"d":40},{"x":67.5,"d":26},{"x":68,"d":30},{"x":68.5,"d":25},{"x":69,"d":29},{"x":69.5,"d":27},{"x":70,"d":31},{"x":70.5,"d":25},
{"x":71,"d":29},{"x":71.5,"d":33},{"x":72,"d":25},{"x":72.5,"d":29},{"x":73,"d":26},{"x":73.5,"d":31},{"x":74,"d":25},{"x":74.5,"d":29},{"x":75,"d":27},{"x":75.5,"d":31},
{"x":76,"d":25},{"x":76.5,"d":29},{"x":77,"d":33},{"x":77.5,"d":24},{"x":78,"d":29},{"x":78.5,"d":26},{"x":79,"d":31},{"x":79.5,"d":25},{"x":80,"d":30},{"x":80.5,"d":26},
{"x":81,"d":29},{"x":81.5,"d":25},{"x":82,"d":31},{"x":82.5,"d":27},{"x":83,"d":29},{"x":83.5,"d":33},{"x":84,"d":24},{"x":84.5,"d":30},{"x":85,"d":26},{"x":85.5,"d":29},
{"x":86,"d":25},{"x":86.5,"d":30},{"x":87,"d":27},{"x":87.5,"d":31},{"x":88,"d":25},{"x":88.5,"d":29},{"x":89,"d":26},{"x":89.5,"d":32},{"x":90,"d":25},{"x":90.5,"d":29},
{"x":91,"d":27},{"x":91.5,"d":31},{"x":92,"d":25},{"x":92.5,"d":29},{"x":93,"d":26},{"x":93.5,"d":31},{"x":94,"d":25},{"x":94.5,"d":29},{"x":95,"d":27},{"x":95.5,"d":30},
{"x":96,"d":24},{"x":96.5,"d":29},{"x":97,"d":32},{"x":97.5,"d":26},{"x":98,"d":29},{"x":98.5,"d":25},{"x":99,"d":33},{"x":99.5,"d":24},{"x":100,"d":29},{"x":100.5,"d":26},
{"x":101,"d":31},{"x":101.5,"d":25},{"x":102,"d":29},{"x":102.5,"d":27},{"x":103,"d":32},{"x":103.5,"d":25},{"x":104,"d":29},{"x":104.5,"d":26},{"x":105,"d":30},{"x":105.5,"d":25},
{"x":106,"d":29},{"x":106.5,"d":27},{"x":107,"d":31},{"x":107.5,"d":25},{"x":108,"d":29},{"x":108.5,"d":24},{"x":109,"d":30},{"x":109.5,"d":26},{"x":110,"d":29},{"x":110.5,"d":25},
{"x":111,"d":31},{"x":111.5,"d":27},{"x":112,"d":33},{"x":112.5,"d":40},{"x":113,"d":27},{"x":113.5,"d":31},{"x":114,"d":25},{"x":114.5,"d":29},{"x":115,"d":26},{"x":115.5,"d":31},
{"x":116,"d":25},{"x":116.5,"d":29},{"x":117,"d":27},{"x":117.5,"d":30},{"x":118,"d":25},{"x":118.5,"d":29},{"x":119,"d":26},{"x":119.5,"d":31},{"x":120,"d":25},{"x":120.5,"d":30},
{"x":121,"d":26},{"x":121.5,"d":29},{"x":122,"d":25},{"x":122.5,"d":31},{"x":123,"d":26},{"x":123.5,"d":29},{"x":124,"d":25},{"x":124.5,"d":30},{"x":125,"d":27},{"x":125.5,"d":31},
{"x":126,"d":25},{"x":126.5,"d":29},{"x":127,"d":26},{"x":127.5,"d":15},{"x":128,"d":30},{"x":128.5,"d":26},{"x":129,"d":31},{"x":129.5,"d":25},{"x":130,"d":29},{"x":130.5,"d":27},
{"x":131,"d":32},{"x":131.5,"d":25},{"x":132,"d":29},{"x":132.5,"d":26},{"x":133,"d":31},{"x":133.5,"d":25},{"x":134,"d":29},{"x":134.5,"d":27},{"x":135,"d":31},{"x":135.5,"d":25},
{"x":136,"d":29},{"x":136.5,"d":26},{"x":137,"d":30},{"x":137.5,"d":25},{"x":138,"d":29},{"x":138.5,"d":27},{"x":139,"d":31},{"x":139.5,"d":26},{"x":140,"d":29}
 ],
 "bb": [
{"x":20.21},{"x":22.4},{"x":25.13},{"x":27.07},{"x":29.81},{"x":34.1},{"x":36.36},{"x":37.61},{"x":38.0},{"x":41.12},{"x":44.0},{"x":45.72},{"x":46.11},{"x":48.45},{"x":48.92},{"x":49.46},{"x":50.01},{"x":50.48},{"x":51.18},{"x":51.57},{"x":53.52},{"x":55.7},{"x":58.43},{"x":60.62},{"x":60.93},{"x":61.32},{"x":61.71},{"x":62.02},{"x":62.33},{"x":62.72},{"x":63.11},{"x":63.58},{"x":63.89},{"x":65.84},{"x":66.23},{"x":66.62},{"x":67.01},{"x":69.4},
{"x":71.52},{"x":72.07},{"x":72.62},{"x":73.08},{"x":73.63},{"x":74.96},{"x":75.58},{"x":76.36},{"x":77.14},{"x":78.08},{"x":79.09},{"x":79.87},{"x":80.65},{"x":81.43},{"x":81.82},{"x":82.21},{"x":82.99},{"x":83.38},{"x":83.77},{"x":84.16},{"x":86.11},
{"x":88.68},{"x":88.99},{"x":89.31},{"x":89.62},{"x":90.01},{"x":90.56},{"x":91.02},{"x":91.41},{"x":91.96},{"x":92.58},{"x":93.13},{"x":93.68},{"x":94.3},{"x":95.08},{"x":96.25},{"x":97.03},{"x":98.83},{"x":100.54},
{"x":102.26},{"x":102.73},{"x":103.04},{"x":103.51},{"x":103.9},{"x":104.44},{"x":104.83},{"x":105.38},{"x":106.0},{"x":106.63},{"x":107.17},{"x":107.56},{"x":108.5},{"x":109.9},
{"x":111.85},{"x":112.24},{"x":112.63},{"x":113.02},{"x":113.41},{"x":113.8},{"x":114.19},{"x":114.58},{"x":114.97},{"x":115.52},{"x":116.14},{"x":116.69},
{"x":119.26},{"x":119.89},{"x":120.43},{"x":120.98},{"x":121.45},{"x":122.54},{"x":123.01},{"x":123.16},{"x":125.66},{"x":126.13},{"x":127.84},{"x":128.23},
{"x":130.73},{"x":131.12},{"x":131.51},{"x":131.9},{"x":132.37},{"x":132.68},{"x":133.15},{"x":133.46},{"x":133.7},{"x":134.71},{"x":135.64},{"x":137.83},{"x":138.61}
 ]
},
"vconcat": [
 {
  "width": 577, "height": 386,
  "resolve": {"axis": {"x": "independent"}},
  "layer": [
   {"layer": [
   {"data": {"name": "pa"}, "mark": {"type": "line", "color": "black", "strokeWidth": 2.5},
    "encoding": {
     "x": {"field": "x", "type": "quantitative", "scale": {"domain": [5, 140], "nice": false, "zero": false},
       "axis": {"orient": "bottom", "values": [20,40,60,80,100,120,140], "tickCount": 7, "title": "2θ /°", "tickSize": 5, "labelFontSize": 20, "labelPadding": 13, "titleFontSize": 25, "titlePadding": 12, "titleX": 274, "titleAlign": "center", "labelFlush": false, "labelOverlap": false}},
     "y": {"field": "o", "type": "quantitative", "scale": {"domain": [0, 386], "nice": false, "zero": false},
       "axis": {"title": "Intensity (arb. unit)", "labels": false, "ticks": false, "titleFontSize": 24, "titlePadding": 7}}
    }},
   {"data": {"name": "pa"}, "mark": {"type": "line", "color": "#ff0000", "strokeWidth": 1.8},
    "encoding": {"x": {"field": "x", "type": "quantitative"}, "y": {"field": "c", "type": "quantitative"}}},
   {"data": {"name": "ba"}, "mark": {"type": "rule", "color": "#0000ff", "strokeWidth": 1.1},
    "encoding": {"x": {"field": "x", "type": "quantitative"}, "y": {"datum": 64}, "y2": {"datum": 81}}},
   {"data": {"name": "one"}, "mark": {"type": "rule", "color": "black", "strokeWidth": 1.5},
    "encoding": {"x": {"datum": 85.25}, "x2": {"datum": 97.9}, "y": {"datum": 368}}},
   {"data": {"name": "one"}, "mark": {"type": "rule", "color": "#ff0000", "strokeWidth": 1.5},
    "encoding": {"x": {"datum": 85.25}, "x2": {"datum": 97.9}, "y": {"datum": 331}}},
   {"data": {"name": "one"}, "mark": {"type": "rule", "color": "#bdbdbd", "strokeWidth": 1.5},
    "encoding": {"x": {"datum": 85.25}, "x2": {"datum": 97.9}, "y": {"datum": 292}}},
   {"data": {"name": "one"}, "mark": {"type": "rule", "color": "#0000ff", "strokeWidth": 1.2},
    "encoding": {"x": {"datum": 91.6}, "y": {"datum": 248}, "y2": {"datum": 265}}},
   {"data": {"name": "one"}, "mark": {"type": "text", "text": "I", "fontSize": 19, "align": "left", "baseline": "alphabetic", "color": "black"},
    "encoding": {"x": {"datum": 99.76}, "y": {"datum": 360}}},
   {"data": {"name": "one"}, "mark": {"type": "text", "text": "obs.", "fontSize": 14, "align": "left", "baseline": "alphabetic", "dx": 5.5, "dy": 8, "color": "black"},
    "encoding": {"x": {"datum": 99.76}, "y": {"datum": 360}}},
   {"data": {"name": "one"}, "mark": {"type": "text", "text": "I", "fontSize": 19, "align": "left", "baseline": "alphabetic", "color": "black"},
    "encoding": {"x": {"datum": 99.76}, "y": {"datum": 325}}},
   {"data": {"name": "one"}, "mark": {"type": "text", "text": "calc.", "fontSize": 14, "align": "left", "baseline": "alphabetic", "dx": 5.5, "dy": 8, "color": "black"},
    "encoding": {"x": {"datum": 99.76}, "y": {"datum": 325}}},
   {"data": {"name": "one"}, "mark": {"type": "text", "text": "I", "fontSize": 19, "align": "left", "baseline": "alphabetic", "color": "black"},
    "encoding": {"x": {"datum": 99.76}, "y": {"datum": 285}}},
   {"data": {"name": "one"}, "mark": {"type": "text", "text": "obs.", "fontSize": 14, "align": "left", "baseline": "alphabetic", "dx": 5.5, "dy": 8, "color": "black"},
    "encoding": {"x": {"datum": 99.76}, "y": {"datum": 285}}},
   {"data": {"name": "one"}, "mark": {"type": "text", "text": "–", "fontSize": 22, "align": "left", "baseline": "alphabetic", "dx": 33, "color": "black"},
    "encoding": {"x": {"datum": 99.76}, "y": {"datum": 285}}},
   {"data": {"name": "one"}, "mark": {"type": "text", "text": "I", "fontSize": 19, "align": "left", "baseline": "alphabetic", "dx": 50, "color": "black"},
    "encoding": {"x": {"datum": 99.76}, "y": {"datum": 285}}},
   {"data": {"name": "one"}, "mark": {"type": "text", "text": "calc.", "fontSize": 14, "align": "left", "baseline": "alphabetic", "dx": 55.5, "dy": 8, "color": "black"},
    "encoding": {"x": {"datum": 99.76}, "y": {"datum": 285}}},
   {"data": {"name": "one"}, "mark": {"type": "text", "text": "Bragg positions", "fontSize": 23, "align": "left", "baseline": "alphabetic", "color": "black"},
    "encoding": {"x": {"datum": 99.76}, "y": {"datum": 250}}},
   {"data": {"name": "one"}, "mark": {"type": "text", "text": "Li", "fontSize": 23, "align": "left", "baseline": "alphabetic", "color": "#0000ff"},
    "encoding": {"x": {"datum": 85.25}, "y": {"datum": 205}}},
   {"data": {"name": "one"}, "mark": {"type": "text", "text": "0.5−", "fontSize": 15, "align": "left", "baseline": "alphabetic", "dx": 18, "dy": 5, "color": "#0000ff"},
    "encoding": {"x": {"datum": 85.25}, "y": {"datum": 205}}},
   {"data": {"name": "one"}, "mark": {"type": "text", "text": "δ", "fontSize": 15, "fontStyle": "italic", "align": "left", "baseline": "alphabetic", "dx": 47.5, "dy": 5, "color": "#0000ff"},
    "encoding": {"x": {"datum": 85.25}, "y": {"datum": 205}}},
   {"data": {"name": "one"}, "mark": {"type": "text", "text": "CoPO", "fontSize": 23, "align": "left", "baseline": "alphabetic", "dx": 57, "color": "#0000ff"},
    "encoding": {"x": {"datum": 85.25}, "y": {"datum": 205}}},
   {"data": {"name": "one"}, "mark": {"type": "text", "text": "4", "fontSize": 15, "align": "left", "baseline": "alphabetic", "dx": 120, "dy": 5, "color": "#0000ff"},
    "encoding": {"x": {"datum": 85.25}, "y": {"datum": 205}}},
   {"data": {"name": "one"}, "mark": {"type": "text", "text": "(", "fontSize": 23, "align": "left", "baseline": "alphabetic", "dx": 134, "color": "#0000ff"},
    "encoding": {"x": {"datum": 85.25}, "y": {"datum": 205}}},
   {"data": {"name": "one"}, "mark": {"type": "text", "text": "Cmcm", "fontSize": 23, "fontStyle": "italic", "align": "left", "baseline": "alphabetic", "dx": 143, "color": "#0000ff"},
    "encoding": {"x": {"datum": 85.25}, "y": {"datum": 205}}},
   {"data": {"name": "one"}, "mark": {"type": "text", "text": ")", "fontSize": 23, "align": "left", "baseline": "alphabetic", "dx": 209, "color": "#0000ff"},
    "encoding": {"x": {"datum": 85.25}, "y": {"datum": 205}}},
   {"data": {"name": "one"}, "mark": {"type": "text", "text": "a)", "fontSize": 24, "align": "left", "baseline": "alphabetic", "color": "black"},
    "encoding": {"x": {"datum": 7.8}, "y": {"datum": 354}}}
   ]},
   {"data": {"name": "da"}, "mark": {"type": "line", "color": "#bdbdbd", "strokeWidth": 1.5},
    "encoding": {
     "x": {"field": "x", "type": "quantitative", "scale": {"domain": [5, 140], "nice": false, "zero": false},
       "axis": {"orient": "bottom", "values": [5,10,15,20,25,30,35,40,45,50,55,60,65,70,75,80,85,90,95,100,105,110,115,120,125,130,135,140], "tickCount": 27, "labels": false, "domain": false, "title": null, "tickSize": 5}},
     "y": {"field": "d", "type": "quantitative"}}}
  ]
 },
 {
  "width": 577, "height": 386,
  "resolve": {"axis": {"x": "independent"}},
  "layer": [
   {"layer": [
   {"data": {"name": "pb"}, "mark": {"type": "line", "color": "black", "strokeWidth": 2.5},
    "encoding": {
     "x": {"field": "x", "type": "quantitative", "scale": {"domain": [5, 140], "nice": false, "zero": false},
       "axis": {"orient": "bottom", "values": [20,40,60,80,100,120,140], "tickCount": 7, "title": "2θ /°", "tickSize": 5, "labelFontSize": 20, "labelPadding": 13, "titleFontSize": 25, "titlePadding": 12, "titleX": 274, "titleAlign": "center", "labelFlush": false, "labelOverlap": false}},
     "y": {"field": "o", "type": "quantitative", "scale": {"domain": [0, 386], "nice": false, "zero": false},
       "axis": {"title": "Intensity (arb. unit)", "labels": false, "ticks": false, "titleFontSize": 24, "titlePadding": 7}}
    }},
   {"data": {"name": "pb"}, "mark": {"type": "line", "color": "#ff0000", "strokeWidth": 1.8},
    "encoding": {"x": {"field": "x", "type": "quantitative"}, "y": {"field": "c", "type": "quantitative"}}},
   {"data": {"name": "bb"}, "mark": {"type": "rule", "color": "#ff0000", "strokeWidth": 1.1},
    "encoding": {"x": {"field": "x", "type": "quantitative"}, "y": {"datum": 53}, "y2": {"datum": 72}}},
   {"data": {"name": "one"}, "mark": {"type": "rule", "color": "black", "strokeWidth": 1.5},
    "encoding": {"x": {"datum": 85.7}, "x2": {"datum": 98.1}, "y": {"datum": 368}}},
   {"data": {"name": "one"}, "mark": {"type": "rule", "color": "#ff0000", "strokeWidth": 1.5},
    "encoding": {"x": {"datum": 85.7}, "x2": {"datum": 98.1}, "y": {"datum": 330}}},
   {"data": {"name": "one"}, "mark": {"type": "rule", "color": "#bdbdbd", "strokeWidth": 1.5},
    "encoding": {"x": {"datum": 85.7}, "x2": {"datum": 98.1}, "y": {"datum": 292}}},
   {"data": {"name": "one"}, "mark": {"type": "rule", "color": "#ff0000", "strokeWidth": 1.2},
    "encoding": {"x": {"datum": 92.0}, "y": {"datum": 247}, "y2": {"datum": 263}}},
   {"data": {"name": "one"}, "mark": {"type": "text", "text": "I", "fontSize": 19, "align": "left", "baseline": "alphabetic", "color": "black"},
    "encoding": {"x": {"datum": 100.1}, "y": {"datum": 359}}},
   {"data": {"name": "one"}, "mark": {"type": "text", "text": "obs.", "fontSize": 14, "align": "left", "baseline": "alphabetic", "dx": 5.5, "dy": 8, "color": "black"},
    "encoding": {"x": {"datum": 100.1}, "y": {"datum": 359}}},
   {"data": {"name": "one"}, "mark": {"type": "text", "text": "I", "fontSize": 19, "align": "left", "baseline": "alphabetic", "color": "black"},
    "encoding": {"x": {"datum": 100.1}, "y": {"datum": 320}}},
   {"data": {"name": "one"}, "mark": {"type": "text", "text": "calc.", "fontSize": 14, "align": "left", "baseline": "alphabetic", "dx": 5.5, "dy": 8, "color": "black"},
    "encoding": {"x": {"datum": 100.1}, "y": {"datum": 320}}},
   {"data": {"name": "one"}, "mark": {"type": "text", "text": "I", "fontSize": 19, "align": "left", "baseline": "alphabetic", "color": "black"},
    "encoding": {"x": {"datum": 100.1}, "y": {"datum": 282}}},
   {"data": {"name": "one"}, "mark": {"type": "text", "text": "obs.", "fontSize": 14, "align": "left", "baseline": "alphabetic", "dx": 5.5, "dy": 8, "color": "black"},
    "encoding": {"x": {"datum": 100.1}, "y": {"datum": 282}}},
   {"data": {"name": "one"}, "mark": {"type": "text", "text": "–", "fontSize": 22, "align": "left", "baseline": "alphabetic", "dx": 33, "color": "black"},
    "encoding": {"x": {"datum": 100.1}, "y": {"datum": 282}}},
   {"data": {"name": "one"}, "mark": {"type": "text", "text": "I", "fontSize": 19, "align": "left", "baseline": "alphabetic", "dx": 50, "color": "black"},
    "encoding": {"x": {"datum": 100.1}, "y": {"datum": 282}}},
   {"data": {"name": "one"}, "mark": {"type": "text", "text": "calc.", "fontSize": 14, "align": "left", "baseline": "alphabetic", "dx": 55.5, "dy": 8, "color": "black"},
    "encoding": {"x": {"datum": 100.1}, "y": {"datum": 282}}},
   {"data": {"name": "one"}, "mark": {"type": "text", "text": "Bragg positions", "fontSize": 23, "align": "left", "baseline": "alphabetic", "color": "black"},
    "encoding": {"x": {"datum": 100.1}, "y": {"datum": 248}}},
   {"data": {"name": "one"}, "mark": {"type": "text", "text": "Li", "fontSize": 24, "align": "left", "baseline": "alphabetic", "color": "#ff0000"},
    "encoding": {"x": {"datum": 88.06}, "y": {"datum": 203}}},
   {"data": {"name": "one"}, "mark": {"type": "text", "text": "1−γ", "fontSize": 15, "align": "left", "baseline": "alphabetic", "dx": 19, "dy": 5, "color": "#ff0000"},
    "encoding": {"x": {"datum": 88.06}, "y": {"datum": 203}}},
   {"data": {"name": "one"}, "mark": {"type": "text", "text": "CoPO", "fontSize": 24, "align": "left", "baseline": "alphabetic", "dx": 44, "color": "#ff0000"},
    "encoding": {"x": {"datum": 88.06}, "y": {"datum": 203}}},
   {"data": {"name": "one"}, "mark": {"type": "text", "text": "4", "fontSize": 15, "align": "left", "baseline": "alphabetic", "dx": 109.5, "dy": 5, "color": "#ff0000"},
    "encoding": {"x": {"datum": 88.06}, "y": {"datum": 203}}},
   {"data": {"name": "one"}, "mark": {"type": "text", "text": "(", "fontSize": 24, "align": "left", "baseline": "alphabetic", "dx": 123, "color": "#ff0000"},
    "encoding": {"x": {"datum": 88.06}, "y": {"datum": 203}}},
   {"data": {"name": "one"}, "mark": {"type": "text", "text": "Cmcm", "fontSize": 24, "fontStyle": "italic", "align": "left", "baseline": "alphabetic", "dx": 131, "color": "#ff0000"},
    "encoding": {"x": {"datum": 88.06}, "y": {"datum": 203}}},
   {"data": {"name": "one"}, "mark": {"type": "text", "text": ")", "fontSize": 24, "align": "left", "baseline": "alphabetic", "dx": 200, "color": "#ff0000"},
    "encoding": {"x": {"datum": 88.06}, "y": {"datum": 203}}},
   {"data": {"name": "one"}, "mark": {"type": "text", "text": "b)", "fontSize": 24, "align": "left", "baseline": "alphabetic", "color": "black"},
    "encoding": {"x": {"datum": 7.8}, "y": {"datum": 353}}}
   ]},
   {"data": {"name": "db"}, "mark": {"type": "line", "color": "#bdbdbd", "strokeWidth": 1.5},
    "encoding": {
     "x": {"field": "x", "type": "quantitative", "scale": {"domain": [5, 140], "nice": false, "zero": false},
       "axis": {"orient": "bottom", "values": [5,10,15,20,25,30,35,40,45,50,55,60,65,70,75,80,85,90,95,100,105,110,115,120,125,130,135,140], "tickCount": 27, "labels": false, "domain": false, "title": null, "tickSize": 5}},
     "y": {"field": "d", "type": "quantitative"}}}
  ]
 }
]
}
